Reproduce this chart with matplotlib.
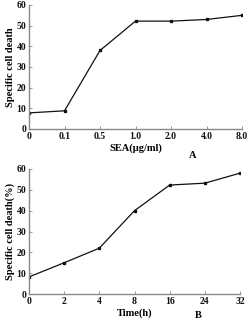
import matplotlib
matplotlib.use("Agg")
import matplotlib.pyplot as plt

# Panel A: dose response
sea_labels = ["0", "0.1", "0.5", "1.0", "2.0", "4.0", "8.0"]
sea_death = [7.8, 8.8, 38, 52.2, 52.2, 53, 55]

# Panel B: time course
time_labels = ["0", "2", "4", "8", "16", "24", "32"]
time_death = [8.2, 15, 22, 40, 52.3, 53.2, 58]

plt.rcParams["font.family"] = ["Liberation Serif", "DejaVu Serif"]
plt.rcParams["font.weight"] = "bold"

fig = plt.figure(figsize=(2.5, 3.24), dpi=100)
ax_a = fig.add_axes([29 / 250, 1 - 129 / 324, 213 / 250, 124 / 324])
ax_b = fig.add_axes([29 / 250, 1 - 294 / 324, 211 / 250, 125 / 324])


def style(ax, labels, values, xlabel, ylabel, tag, tag_x, tag_y):
    xs = list(range(len(values)))
    ax.plot(xs, values, color="#111111", lw=0.9, marker="s", ms=1.6)
    ax.set_xlim(0, len(values) - 1)
    ax.set_ylim(0, 60)
    ax.set_xticks(xs)
    ax.set_xticklabels(labels)
    ax.set_yticks(range(0, 61, 10))
    for s in ("top", "right"):
        ax.spines[s].set_visible(False)
    for s in ("left", "bottom"):
        ax.spines[s].set_color("#888888")
        ax.spines[s].set_linewidth(1.0)
    ax.tick_params(direction="in", length=2, width=0.6, colors="#888888",
                   labelcolor="#111111", labelsize=7, pad=2)
    ax.set_xlabel(xlabel, fontsize=7.5, fontweight="bold", labelpad=2)
    ax.set_ylabel(ylabel, fontsize=7.5, fontweight="bold", labelpad=1)
    ax.text(tag_x, tag_y, tag, transform=ax.transAxes, fontsize=7.5,
            fontweight="bold", ha="center", va="center")


style(ax_a, sea_labels, sea_death, "SEA(\u03bcg/ml)", "Specific cell death", "A", 0.77, -0.21)
style(ax_b, time_labels, time_death, "Time(h)", "Specific cell death(%)", "B", 0.8, -0.168)

fig.savefig("out.png", dpi=100)
